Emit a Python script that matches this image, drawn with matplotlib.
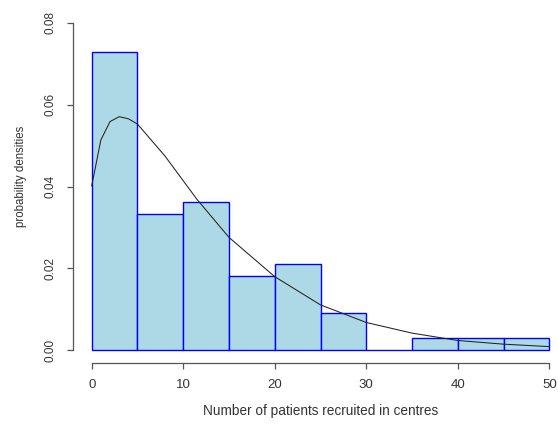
import matplotlib
matplotlib.use("Agg")
import matplotlib.pyplot as plt

# Histogram bins (left edges) and densities
bin_edges = [0, 5, 10, 15, 20, 25, 30, 35, 40, 45, 50]
densities = [0.0729, 0.0333, 0.0363, 0.0182, 0.0212, 0.0091, 0.0, 0.0029, 0.0029, 0.0029]

# Fitted density curve points
curve_x = [0, 1, 2, 3, 4, 5, 8, 11.5, 15, 20, 25, 30, 35, 40, 45, 50]
curve_y = [0.0402, 0.0514, 0.0559, 0.0571, 0.0566, 0.0553, 0.0475, 0.0369,
           0.0276, 0.0180, 0.0111, 0.0068, 0.0042, 0.0024, 0.0015, 0.0009]

x_ticks = [0, 10, 20, 30, 40, 50]
y_ticks = [0.00, 0.02, 0.04, 0.06, 0.08]
y_tick_labels = ["0.00", "0.02", "0.04", "0.06", "0.08"]

plt.rcParams['font.family'] = ['Liberation Sans', 'DejaVu Sans']

fig = plt.figure(figsize=(5.58, 4.24), dpi=100)
ax = fig.add_axes([91.7/558, (424-350.3)/424, (549.3-91.7)/558, (350.3-23)/424])

lefts = bin_edges[:-1]
widths = [bin_edges[i+1]-bin_edges[i] for i in range(len(lefts))]
ax.bar(lefts, densities, width=widths, align='edge', color='#ADD8E6',
       edgecolor='#0000FF', linewidth=1.0, clip_on=False)
ax.plot(curve_x, curve_y, color='#222222', linewidth=0.75, clip_on=False)

ax.set_xlim(0, 50)
ax.set_ylim(0, 0.08)

for s in ['top', 'right']:
    ax.spines[s].set_visible(False)
axis_col = '#555555'
ax.spines['left'].set_position(('outward', 13.2))
ax.spines['bottom'].set_position(('outward', 9.4))
ax.spines['left'].set_bounds(0, 0.08)
ax.spines['bottom'].set_bounds(0, 50)
for s in ['left', 'bottom']:
    ax.spines[s].set_color(axis_col)
    ax.spines[s].set_linewidth(0.9)

ax.set_xticks(x_ticks)
ax.set_xticklabels([str(t) for t in x_ticks])
ax.set_yticks(y_ticks)
ax.set_yticklabels(y_tick_labels, rotation=90, va='center')
ax.tick_params(axis='both', length=4.3, width=0.9, color=axis_col,
               labelcolor='#333333', labelsize=8.5)
ax.tick_params(axis='x', labelsize=9.5, pad=7)
ax.tick_params(axis='y', pad=8)

ax.set_xlabel("Number of patients recruited in centres", fontsize=9.8, color='#333333', labelpad=9)
ax.set_ylabel("probability densities", fontsize=8.3, color='#333333')
ax.yaxis.set_label_coords(-0.141, 0.53)

fig.savefig("out.png", dpi=100, facecolor='white')
